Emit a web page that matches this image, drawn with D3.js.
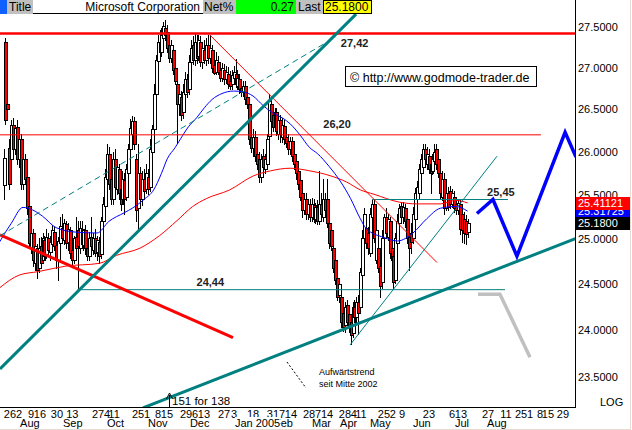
<!DOCTYPE html>
<html><head><meta charset="utf-8">
<script src="https://cdn.jsdelivr.net/npm/d3@7"></script>
<style>
html,body{margin:0;padding:0;background:#fff;}
svg{display:block;}
text{font-family:"Liberation Sans",Arial,sans-serif;}
</style></head><body>
<svg id="c" width="632" height="430"></svg>
<script>
// ---------- DATA ----------
// daily candles [open, high, low, close]
const candles = [
[25.62,26.03,25.46,25.93],[27.32,27.36,26.33,26.38],[26.57,26.63,26.46,26.50],[26.05,26.15,25.57,25.63],[25.92,26.38,25.86,26.32],
[26.32,26.40,25.95,26.03],[26.03,26.29,25.98,26.28],[26.29,26.38,25.86,25.92],[25.92,26.21,25.82,26.15],[26.15,26.21,25.57,25.63],
[25.63,26.03,25.57,25.92],[25.92,25.98,25.63,25.69],[25.71,25.86,25.29,25.35],[25.38,25.46,24.90,24.96],[24.90,25.09,24.85,25.07],
[25.07,25.12,24.70,24.77],[24.74,24.94,24.66,24.92],[24.90,24.95,24.57,24.66],[24.68,25.01,24.64,24.90],[24.92,25.03,24.72,24.74],
[24.77,25.07,24.73,25.01],[24.99,25.04,24.77,24.81],[24.84,25.12,24.79,25.02],[25.01,25.07,24.81,24.88],[24.86,25.04,24.77,24.97],
[24.95,25.16,24.90,25.10],[25.08,25.14,24.88,24.92],[24.94,25.01,24.68,24.77],[24.77,25.02,24.55,24.98],[24.96,25.25,24.92,25.15],
[25.13,25.28,24.96,25.01],[24.99,25.23,24.95,25.18],[25.17,25.21,24.90,24.96],[24.97,25.18,24.88,25.12],[25.10,25.14,24.79,24.85],
[24.88,25.01,24.70,24.77],[24.77,25.04,24.73,25.01],[25.03,25.25,24.83,24.90],[25.10,25.21,24.44,24.92],[24.90,25.21,24.85,25.13],
[25.12,25.21,24.90,24.95],[24.93,25.12,24.88,25.10],[25.10,25.16,24.84,24.90],[24.90,25.01,24.77,24.81],[24.81,25.08,24.77,25.01],
[25.02,25.25,24.88,24.92],[24.88,25.07,24.84,25.01],[25.01,25.12,24.81,24.85],[24.86,25.04,24.77,24.99],[24.97,25.02,24.74,24.81],
[24.84,25.25,24.79,25.20],[25.21,25.48,25.17,25.40],[25.38,25.80,25.33,25.71],[25.69,26.09,25.63,25.98],[25.98,26.06,25.57,25.63],
[25.69,25.86,25.40,25.46],[25.46,26.00,25.40,25.92],[25.92,26.03,25.55,25.59],[25.57,25.92,25.51,25.82],[25.80,25.86,25.46,25.52],
[25.57,25.75,25.33,25.40],[25.46,25.78,25.40,25.69],[25.67,25.75,25.29,25.46],[25.48,25.86,25.44,25.80],[25.75,26.09,25.69,26.03],
[26.03,26.39,25.98,26.28],[26.21,26.42,26.15,26.36],[26.36,26.41,26.03,26.09],[25.92,25.98,25.21,25.33],[25.35,26.09,25.10,25.75],
[25.75,25.82,25.40,25.46],[25.46,25.78,25.39,25.69],[25.69,25.80,25.49,25.55],[25.57,25.86,25.52,25.75],[25.71,25.80,25.51,25.57],
[25.59,26.15,25.55,26.03],[26.00,26.32,25.92,26.27],[26.27,26.80,26.21,26.68],[26.68,27.16,26.62,27.10],[27.08,27.40,27.00,27.32],
[27.32,27.46,27.12,27.19],[27.19,27.49,27.15,27.40],[27.36,27.56,27.31,27.51],[27.49,27.59,27.34,27.40],[27.44,27.52,27.19,27.24],
[27.28,27.34,27.07,27.12],[27.12,27.34,27.07,27.28],[27.22,27.28,26.92,26.98],[27.00,27.10,26.80,26.84],[26.80,26.88,26.10,26.56],
[26.56,26.74,26.44,26.68],[26.65,26.72,26.38,26.44],[26.47,26.80,26.40,26.71],[26.68,26.95,26.62,26.86],[26.86,26.92,26.65,26.71],
[26.74,27.16,26.68,27.07],[27.07,27.34,27.00,27.24],[27.28,27.39,27.05,27.10],[27.10,27.42,27.04,27.32],[27.32,27.40,27.06,27.12],
[27.14,27.40,27.10,27.34],[27.32,27.39,27.02,27.07],[27.07,27.31,27.00,27.24],[27.22,27.34,27.06,27.10],[27.10,27.36,27.04,27.28],
[27.28,27.40,27.06,27.12],[27.12,27.40,27.06,27.24],[27.22,27.28,26.95,27.00],[27.03,27.16,26.92,26.94],[26.95,27.19,26.92,27.10],
[27.07,27.15,26.92,26.95],[26.98,27.05,26.84,26.88],[26.88,27.06,26.84,27.00],[26.98,27.05,26.81,26.86],[26.86,27.02,26.82,26.95],
[26.93,27.01,26.76,26.81],[26.84,26.96,26.74,26.78],[26.80,26.97,26.74,26.91],[26.88,27.02,26.84,26.95],[26.93,27.11,26.77,26.80],
[26.78,26.97,26.74,26.88],[26.86,26.92,26.70,26.74],[26.76,26.86,26.66,26.71],[26.71,26.84,26.66,26.78],[26.78,26.84,26.57,26.62],
[26.65,26.74,26.52,26.57],[26.57,26.62,26.09,26.15],[26.18,26.24,26.00,26.05],[26.05,26.27,25.95,26.18],[26.18,26.24,25.89,25.95],
[25.98,26.09,25.80,25.86],[25.92,26.00,25.65,25.71],[25.71,25.98,25.65,25.92],[25.95,26.03,25.78,25.82],[25.80,25.98,25.75,25.92],
[25.86,26.21,25.80,26.15],[26.19,26.68,26.15,26.60],[26.56,26.62,26.30,26.36],[26.44,26.52,26.24,26.29],[26.29,26.52,26.24,26.47],
[26.47,26.52,26.20,26.24],[26.21,26.44,26.15,26.38],[26.38,26.44,26.12,26.21],[26.18,26.40,26.12,26.32],[26.31,26.38,26.09,26.15],
[26.18,26.27,26.06,26.10],[26.13,26.21,25.98,26.03],[26.03,26.17,25.98,26.13],[26.13,26.17,25.89,25.95],[25.98,26.06,25.80,25.86],
[25.89,25.95,25.69,25.75],[25.78,25.86,25.57,25.63],[25.67,25.75,25.44,25.48],[25.52,25.57,25.25,25.33],[25.33,25.52,25.28,25.46],
[25.46,25.52,25.23,25.29],[25.29,25.46,25.23,25.40],[25.40,25.46,25.21,25.25],[25.25,25.47,25.21,25.40],[25.39,25.46,25.19,25.23],
[25.23,25.41,25.18,25.36],[25.36,25.44,25.17,25.21],[25.21,25.78,25.17,25.40],[25.40,25.52,25.23,25.29],[25.25,25.69,25.21,25.46],
[25.46,25.52,25.25,25.33],[25.46,25.69,25.14,25.18],[25.18,25.25,24.90,24.96],[25.10,25.14,24.88,24.92],[24.90,24.96,24.63,24.68],
[24.77,24.81,24.50,24.55],[24.57,24.63,24.33,24.36],[24.38,24.52,24.30,24.50],[24.36,24.41,24.03,24.09],[24.19,24.25,23.99,24.03],
[24.06,24.30,23.98,24.25],[24.27,24.33,24.06,24.09],[24.17,24.25,23.98,24.03],[24.09,24.17,23.85,23.95],[23.97,24.30,23.93,24.25],
[24.25,24.33,24.09,24.14],[24.14,24.36,24.09,24.30],[24.30,24.38,23.96,24.19],[24.25,24.68,24.19,24.63],[24.60,25.10,24.55,25.01],
[25.01,25.35,24.96,25.29],[25.13,25.23,24.90,24.96],[25.07,25.14,24.84,24.90],[24.85,25.35,24.81,25.29],[25.25,25.45,25.21,25.40],
[25.40,25.46,24.97,25.01],[24.77,25.16,24.73,25.10],[24.90,25.01,24.63,24.68],[24.70,24.77,24.36,24.48],[24.52,25.10,24.46,25.01],
[25.01,25.28,24.96,25.25],[25.25,25.35,25.01,25.07],[25.03,25.28,24.99,25.23],[25.21,25.25,24.79,24.85],[24.90,24.96,24.70,24.77],
[24.81,24.87,24.46,24.52],[24.55,25.07,24.51,25.01],[24.96,25.29,24.90,25.21],[25.18,25.40,25.12,25.35],[25.38,25.42,25.21,25.25],
[25.25,25.42,25.18,25.36],[25.35,25.40,25.14,25.21],[25.23,25.31,24.96,25.01],[25.03,25.10,24.66,24.90],[25.07,25.18,24.85,24.97],
[25.01,25.36,24.96,25.29],[25.23,25.58,25.17,25.52],[25.46,25.66,25.40,25.59],[25.52,25.86,25.46,25.80],[25.75,25.98,25.69,25.92],
[25.82,26.09,25.78,26.03],[26.03,26.09,25.86,25.92],[25.86,26.06,25.80,25.98],[25.95,26.03,25.75,25.80],[25.86,25.92,25.52,25.75],
[25.78,25.98,25.74,25.92],[25.89,26.09,25.83,26.00],[26.03,26.09,25.80,25.86],[25.92,26.00,25.71,25.75],[25.75,25.80,25.46,25.52],
[25.48,25.78,25.44,25.69],[25.69,25.75,25.29,25.35],[25.35,25.57,25.33,25.52],[25.52,25.59,25.33,25.37],[25.55,25.61,25.35,25.40],
[25.40,25.57,25.37,25.52],[25.48,25.55,25.31,25.35],[25.40,25.48,25.28,25.33],[25.33,25.46,25.28,25.41],[25.40,25.44,25.06,25.12],
[25.29,25.35,24.97,25.10],[25.23,25.31,24.96,25.07],[25.21,25.27,24.95,25.06],[25.08,25.23,25.02,25.18]
];
// moving averages sampled along the curves [slot, value]
const blueMA = [[-2,24.97],[4,25.18],[10,25.36],[15,25.33],[20,25.26],[27,25.13],[37,25.08],[48,25.07],[54,25.20],[62,25.30],
[66,25.35],[72,25.45],[77,25.56],[81,25.75],[84,25.92],[88,26.05],[91,26.16],[95,26.30],[99,26.40],[103,26.52],[107,26.62],
[112,26.69],[118,26.72],[123,26.71],[128,26.66],[133,26.55],[138,26.46],[143,26.40],[147,26.33],[152,26.20],[157,26.05],
[161,25.98],[167,25.83],[173,25.65],[178,25.46],[183,25.23],[186,25.12],[195,25.02],[202,24.98],[210,25.07],[217,25.23],
[224,25.35],[232,25.37],[238,25.31725]];
const redMA = [[-2,24.46],[8,24.60],[18,24.64],[32,24.70],[49,24.73],[58,24.82],[70,24.90],[80,25.04],[89,25.21],[97,25.37],
[104,25.46],[116,25.56],[128,25.72],[137,25.78],[147,25.81],[157,25.78],[168,25.72],[176,25.65],[183,25.56],[190,25.51],
[203,25.42],[212,25.40],[224,25.40],[232,25.44],[238,25.41121]];
// trend lines [slot, price]
const steepTrend = [[-1.795,23.585],[180.8,27.66]];
const channelDash = [[-1.795,25.04],[170.5,27.38]];
const longTrend = [[71.5,23.176],[293.6,25.01]];
const lowTrend = [[177.7,23.84],[253.1,25.95]];
const redDown = [[-1.795,25.05],[117.7,23.92]];
const redThinDown = [[105.9,27.40],[222.3,24.74]];
const levels = {res:27.42, mid:26.20, sup:24.44, top:25.45};
const blueProj = [[242.8,25.29],[251,25.45],[263.3,24.81],[288,26.23],[293.6,25.94]];
const grayProj = [[243.3,24.39],[254.6,24.39],[270,23.71]];
// axis labels
const yTicks = [27.5,27.0,26.5,26.0,25.5,25.0,24.5,24.0,23.5];
const dayTicks = [["26",3.33],["2",7.95],["9",14.1],["16",18.7],["30",27.4],["13",35.3],["27",48.5],["4",53.1],["11",56.7],
["25",69.0],["1",73.6],["8",79.2],["15",83.8],["29",93.6],["6",98.2],["13",102.8],["27",113.1],["3",118.2],["18",128.0],
["31",138.2],["7",142.8],["14",147.4],["28",156.7],["7",161.3],["14",165.9],["28",175.1],["4",179.7],["11",183.3],
["25",195.1],["2",199.7],["9",204.4],["23",218.2],["6",230.0],["13",234.6],["27",248.5],["11",257.7],["25",265.4],
["1",270.0],["8",275.1],["15",279.2],["29",286.9]];
const monthTicks = [["Aug",8.5],["Sep",30.5],["Oct",53.1],["Nov",74.1],["Dec",95.6],["Feb",138.7],["Jan 2005",118.7],
["Mar",158.2],["Apr",172.6],["May",187.9],["Jun",210],["Jul",231.5],["Aug",248]];
const lastValues = {red:25.41121, blue:25.31725, last:25.18};

// ---------- SCALES ----------
const svg = d3.select("#c");
const x = d3.scaleLinear().domain([-1.795,293.59]).range([0,576]);
const y = d3.scaleLog().domain([23.5,27.5]).range([377,27]);
const line = d3.line().x(p=>x(p[0])).y(p=>y(p[1]));
const curve = d3.line().x(p=>x(p[0])).y(p=>y(p[1])).curve(d3.curveMonotoneX);

svg.append("rect").attr("width",632).attr("height",430).attr("fill","#fff");
svg.append("defs").append("clipPath").attr("id","pc").append("rect")
  .attr("x",0).attr("y",14).attr("width",576).attr("height",394);
const g = svg.append("g").attr("clip-path","url(#pc)");

// ---------- CANDLES ----------
const cg = g.append("g").attr("shape-rendering","crispEdges");
candles.forEach((d,i)=>{
  const [o,h,l,c] = d;
  const cx = Math.round(x(i));
  cg.append("line").attr("x1",cx+0.5).attr("x2",cx+0.5)
    .attr("y1",Math.round(y(h))).attr("y2",Math.round(y(l))+1).attr("stroke","#000");
  const t = Math.round(y(Math.max(o,c))), b = Math.round(y(Math.min(o,c)));
  cg.append("rect").attr("x",cx-0.5).attr("y",t+0.5).attr("width",3).attr("height",Math.max(1,b-t))
    .attr("fill", c>=o ? "#fff" : "#ff0000").attr("stroke","#000").attr("stroke-width",1);
});

// ---------- MOVING AVERAGES ----------
g.append("path").attr("d",curve(redMA)).attr("fill","none").attr("stroke","#ff0000").attr("stroke-width",1);
g.append("path").attr("d",curve(blueMA)).attr("fill","none").attr("stroke","#0000ff").attr("stroke-width",1);

// ---------- TREND LINES ----------
function seg(pts, col, w, dash){
  g.append("path").attr("d",line(pts)).attr("fill","none").attr("stroke",col)
   .attr("stroke-width",w).attr("stroke-dasharray",dash||null);
}
const teal = "#008080";
seg([[-1.795,levels.res],[293.6,levels.res]], "#ff0000", 2.5);
seg([[-1.795,levels.mid],[275.6,levels.mid]], "#ff0000", 1);
seg([[38,levels.sup],[257.2,levels.sup]], teal, 1);
seg([[189,levels.top],[258.7,levels.top]], teal, 1);
seg(redDown, "#ff0000", 3);
seg(redThinDown, "#ff0000", 1);
seg(channelDash, teal, 1, "6,4");
seg(steepTrend, teal, 3);
seg(longTrend, teal, 3);
seg(lowTrend, teal, 1);
seg(grayProj, "#c0c0c0", 3.5);
seg(blueProj, "#0000ff", 3.5);

// level labels
const lab = svg.append("g").attr("font-weight","bold").attr("font-size","11px").attr("fill","#222");
lab.append("text").attr("x",x(173)).attr("y",y(levels.res)+14).text("27,42");
lab.append("text").attr("x",x(164)).attr("y",y(levels.mid)-7).text("26,20");
lab.append("text").attr("x",x(248)).attr("y",y(levels.top)-4).text("25,45");
lab.append("text").attr("x",x(99)).attr("y",y(levels.sup)-4).text("24,44");

// copyright box
svg.append("rect").attr("x",345.5).attr("y",66.5).attr("width",191).attr("height",20)
  .attr("fill","#fff").attr("stroke","#000").attr("shape-rendering","crispEdges");
svg.append("text").attr("x",350).attr("y",81.5).attr("font-size","12.5px").attr("fill","#000")
  .text("\u00A9 http://www.godmode-trader.de");

// annotation
svg.append("path").attr("d","M287,362 L306,388").attr("stroke","#000").attr("stroke-dasharray","2,2").attr("fill","none");
svg.append("text").attr("x",319).attr("y",375).attr("font-size","9px").text("Aufwärtstrend");
svg.append("text").attr("x",319).attr("y",387).attr("font-size","9px").text("seit Mitte 2002");
svg.append("line").attr("x1",169.5).attr("x2",169.5).attr("y1",395).attr("y2",408).attr("stroke","#000");
svg.append("path").attr("d","M166.5,399 L169.5,393 L172.5,399").attr("fill","none").attr("stroke","#000");
svg.append("text").attr("x",172).attr("y",405).attr("font-size","11.5px").text("151 for 138");

// ---------- AXES ----------
const ax = svg.append("g").attr("shape-rendering","crispEdges");
ax.append("line").attr("x1",575.5).attr("x2",575.5).attr("y1",0).attr("y2",408).attr("stroke","#000");
ax.append("line").attr("x1",0).attr("x2",576).attr("y1",407.5).attr("y2",407.5).attr("stroke","#000");
yTicks.forEach(v=>{
  svg.append("text").attr("x",578).attr("y",y(v)).attr("dy","0.36em").attr("font-size","11px").text(v.toFixed(4));
});
// last value boxes
function vbox(v,fill){
  const yy = Math.round(y(v));
  svg.append("rect").attr("x",576).attr("y",yy-6).attr("width",55).attr("height",13).attr("fill",fill);
  svg.append("text").attr("x",578).attr("y",yy).attr("dy","0.36em").attr("font-size","11px").attr("fill","#fff").text(v.toFixed(v===lastValues.last?4:5));
}
vbox(lastValues.blue,"#0000ff");
vbox(lastValues.red,"#ff0000");
vbox(lastValues.last,"#000");
svg.append("text").attr("x",600).attr("y",406).attr("font-size","11px").text("LOG");

dayTicks.forEach(d=>{
  svg.append("text").attr("x",x(d[1])).attr("y",418).attr("text-anchor","middle").attr("font-size","11px").text(d[0]);
});
monthTicks.forEach(d=>{
  const t = svg.append("text").attr("x",x(d[1])).attr("y",427).attr("font-size","11px").text(d[0]);
  if(d[0]==="Jan 2005"){
    const bb = t.node().getBBox();
    svg.insert("rect", function(){return t.node();}).attr("x",bb.x).attr("y",bb.y).attr("width",bb.width).attr("height",bb.height).attr("fill","#fff");
  }
});
// thin frame at right and bottom edge
svg.append("path").attr("d","M630.5,0 V429.5 H0").attr("fill","none").attr("stroke","#eadbd2").attr("shape-rendering","crispEdges");

// ---------- HEADER ----------
const hd = svg.append("g").attr("font-size","12px");
const cells = [[0,7,"#1060ff"],[7,26,"#c0c0c0"],[33,170,"#fff"],[203,33,"#c0c0c0"],[236,60,"#00ff00"],[296,27,"#c0c0c0"],[323,49,"#ffff00"]];
cells.forEach(c=>hd.append("rect").attr("x",c[0]).attr("y",0).attr("width",c[1]).attr("height",14).attr("fill",c[2]));
hd.append("line").attr("x1",33).attr("x2",203).attr("y1",13.5).attr("y2",13.5).attr("stroke","#000").attr("shape-rendering","crispEdges");
hd.append("rect").attr("x",323.5).attr("y",0.5).attr("width",48).attr("height",13).attr("fill","none").attr("stroke","#000").attr("shape-rendering","crispEdges");
hd.append("text").attr("x",9).attr("y",11).text("Title");
hd.append("text").attr("x",200).attr("y",11).attr("text-anchor","end").text("Microsoft Corporation");
hd.append("text").attr("x",204).attr("y",11).text("Net%");
hd.append("text").attr("x",294).attr("y",11).attr("text-anchor","end").text("0.27");
hd.append("text").attr("x",298).attr("y",11).text("Last");
hd.append("text").attr("x",325).attr("y",11).text("25.1800");
</script>
</body></html>
